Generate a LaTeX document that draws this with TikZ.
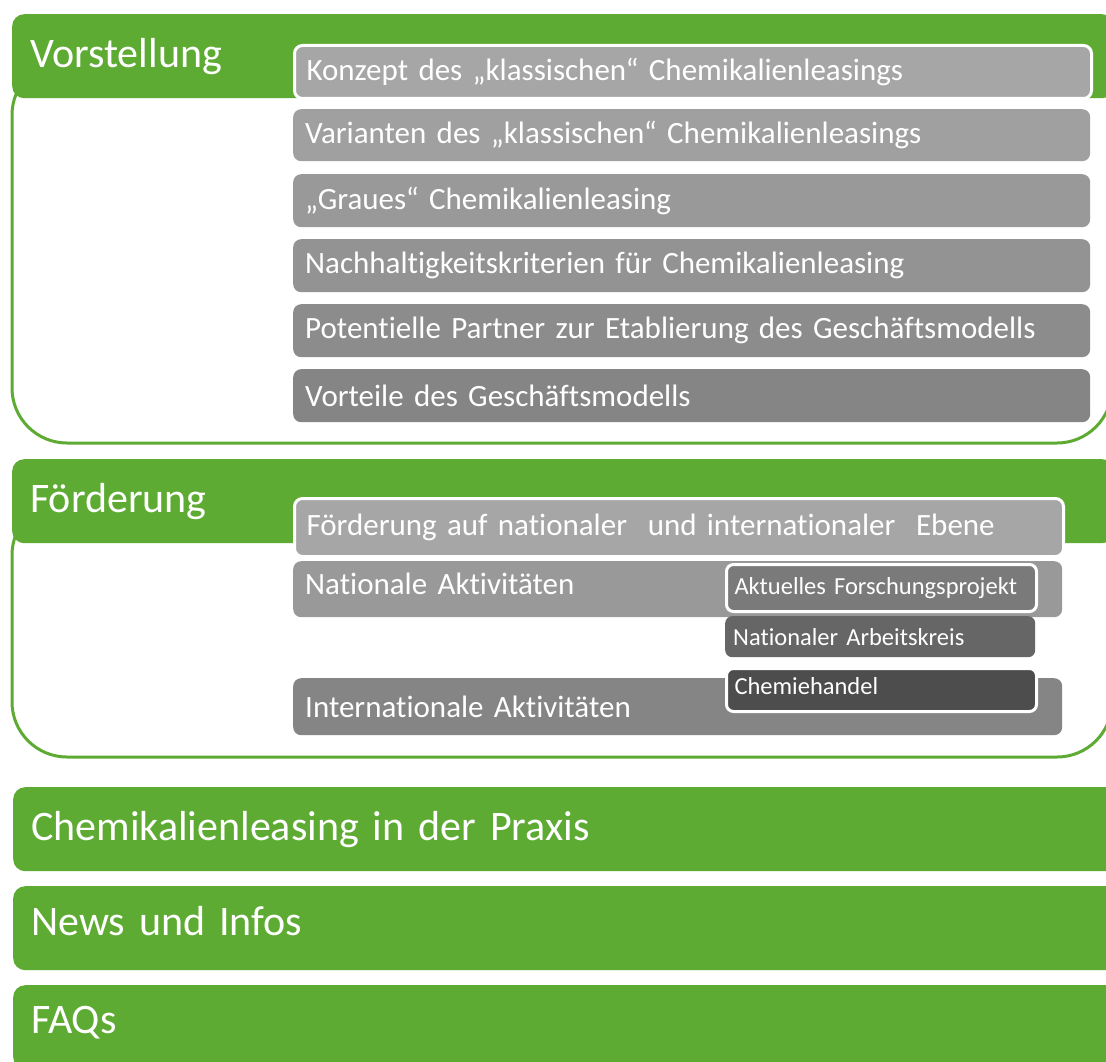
\documentclass[tikz,border=0pt]{standalone}
\usepackage{fontspec}
\setmainfont[Ligatures=NoCommon]{Carlito}
\usepackage{tikz}
\usetikzlibrary{positioning}
\definecolor{leafgreen}{HTML}{5EAB34}
\definecolor{grayA}{HTML}{A6A6A6}
\definecolor{grayB}{HTML}{A0A0A0}
\definecolor{grayC}{HTML}{999999}
\definecolor{grayD}{HTML}{939393}
\definecolor{grayE}{HTML}{8C8C8C}
\definecolor{grayF}{HTML}{858585}
\definecolor{grayG}{HTML}{7A7A7A}
\definecolor{grayH}{HTML}{666666}
\definecolor{grayI}{HTML}{4D4D4D}

\begin{document}
\begin{tikzpicture}[x=1pt,y=-1pt,
  sectionhead/.style={fill=leafgreen,rounded corners=12pt,text=white,anchor=north west,
    minimum height=84pt,inner xsep=18pt,text width=1066pt,align=left,
    font=\fontsize{42}{50}\selectfont},
  sectionframe/.style={draw=leafgreen,line width=3pt,rounded corners=55pt},
  itembox/.style={rounded corners=8pt,text=white,anchor=north west,inner xsep=12pt,
    align=left,font=\fontsize{31}{37}\selectfont},
  subbox/.style={rounded corners=7pt,text=white,anchor=north west,inner xsep=8pt,
    text width=294pt,align=left,font=\fontsize{24.5}{29}\selectfont},
  hilite/.style={draw=white,line width=3pt}]
\clip (0,0) rectangle (1106,1062);
\fill[white] (0,0) rectangle (1106,1062);

% Vorstellung
\draw[sectionframe] (12,60) rectangle (1112,443);
\node[sectionhead] (vor) at (12,14) {Vorstellung};
\node[itembox,fill=grayA,hilite,minimum height=53pt,text width=773pt] (konzept) at (293,44)
  {Konzept des „klassischen“ Chemikalienleasings};
\node[itembox,fill=grayB,minimum height=52pt,text width=773pt] (varianten) at (293,109)
  {Varianten des „klassischen“ Chemikalienleasings};
\node[itembox,fill=grayC,minimum height=53pt,text width=773pt] (graues) at (293,174)
  {„Graues“ Chemikalienleasing};
\node[itembox,fill=grayD,minimum height=53pt,text width=773pt] (kriterien) at (293,239)
  {Nachhaltigkeitskriterien für Chemikalienleasing};
\node[itembox,fill=grayE,minimum height=53pt,text width=773pt] (partner) at (293,304)
  {Potentielle Partner zur Etablierung des Geschäftsmodells};
\node[itembox,fill=grayF,minimum height=53pt,text width=773pt] (vorteile) at (293,369)
  {Vorteile des Geschäftsmodells};

% Foerderung
\draw[sectionframe] (12,500) rectangle (1112,757);
\node[sectionhead] (foe) at (12,459) {Förderung};
\node[itembox,fill=grayA,hilite,minimum height=58pt,text width=745pt] (ebene) at (293,497)
  {Förderung auf nationaler \ und internationaler \ Ebene};
\node[itembox,fill=grayC,minimum height=56pt,text width=745pt,text depth=10pt] (national) at (293,561)
  {Nationale Aktivitäten};
\node[itembox,fill=grayF,minimum height=57pt,text width=745pt] (international) at (293,678)
  {Internationale Aktivitäten};
\node[subbox,fill=grayG,hilite,minimum height=47pt] (projekt) at (725,563)
  {Aktuelles Forschungsprojekt};
\node[subbox,fill=grayH,minimum height=41pt] (arbeitskreis) at (725,616)
  {Nationaler Arbeitskreis};
\node[subbox,fill=grayI,hilite,minimum height=43pt,text depth=8pt] (handel) at (725,667)
  {Chemiehandel};

% weitere Bereiche
\node[sectionhead,text width=1080pt] (praxis) at (13,787) {Chemikalienleasing in der Praxis};
\node[sectionhead,text width=1080pt,text depth=14pt] (news) at (13,886) {News und Infos};
\node[sectionhead,text width=1080pt,text depth=14pt] (faq) at (13,985) {FAQs};
\end{tikzpicture}
\end{document}
